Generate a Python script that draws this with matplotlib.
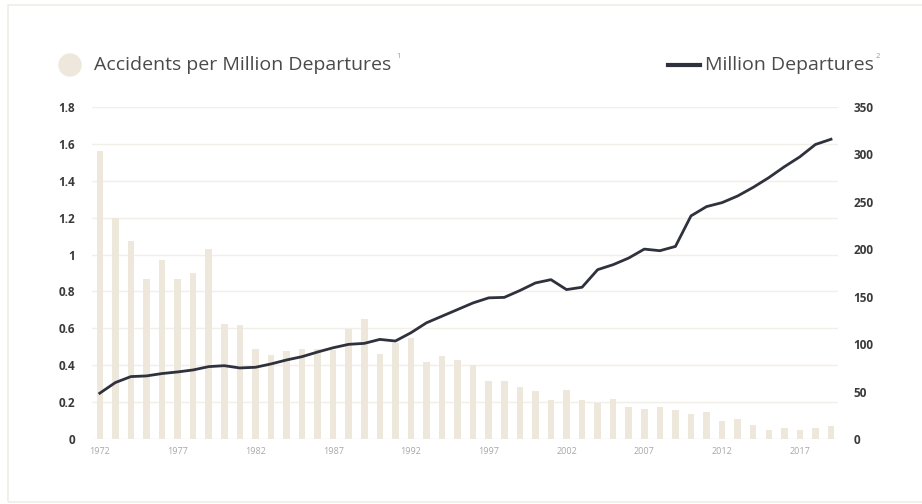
import matplotlib
matplotlib.use("Agg")
from matplotlib import pyplot as plt
from matplotlib.patches import Ellipse, Rectangle
from matplotlib.lines import Line2D
import numpy as np

years = list(range(1972, 2020))

accidents_per_million = [
    1.56, 1.20, 1.076, 0.87, 0.968, 0.87, 0.90, 1.03, 0.626, 0.62,
    0.49, 0.457, 0.479, 0.488, 0.49, 0.485, 0.596, 0.648, 0.459, 0.52,
    0.549, 0.418, 0.45, 0.428, 0.40, 0.315, 0.315, 0.283, 0.261, 0.212,
    0.265, 0.212, 0.194, 0.218, 0.173, 0.162, 0.176, 0.158, 0.135, 0.146,
    0.097, 0.108, 0.076, 0.05, 0.059, 0.05, 0.058, 0.072,
]

million_departures = [
    48.3, 59.5, 65.8, 66.5, 69.0, 70.7, 72.8, 76.3, 77.3, 74.9,
    75.6, 79.1, 83.3, 86.8, 91.7, 96.2, 99.8, 100.8, 105.0, 103.3,
    112.0, 122.5, 129.5, 136.5, 143.5, 148.8, 149.3, 156.5, 164.5, 168.0,
    157.5, 160.0, 178.5, 183.8, 190.8, 200.2, 198.5, 203.0, 235.2, 245.0,
    249.2, 256.2, 265.3, 275.5, 287.0, 297.5, 310.5, 316.0,
]

left_ticks = [0, 0.2, 0.4, 0.6, 0.8, 1, 1.2, 1.4, 1.6, 1.8]
left_labels = ["0", "0.2", "0.4", "0.6", "0.8", "1", "1.2", "1.4", "1.6", "1.8"]
right_ticks = [0, 50, 100, 150, 200, 250, 300, 350]
x_ticks = list(range(1972, 2020, 5))

bar_color = "#EEE8DC"
line_color = "#2F323D"
grid_color = "#F2EFE9"
label_color = "#3A3A3A"

plt.rcParams["font.family"] = ["Open Sans", "DejaVu Sans"]

fig = plt.figure(figsize=(9.22, 5.04), dpi=100)
fig.patches.append(Rectangle((8 / 922, 2 / 504), 1.2, 497 / 504, transform=fig.transFigure,
                             fill=False, edgecolor="#F1EEE8", linewidth=1.2))

ax = fig.add_axes([92 / 922, 1 - 439 / 504, (838 - 92) / 922, (439 - 107) / 504])
ax.bar(years, accidents_per_million, width=0.42, color=bar_color, zorder=2)
ax.set_ylim(0, 1.8)
ax.set_xlim(1971.5, 2019.45)
ax.set_yticks(left_ticks)
ax.set_yticklabels(left_labels)
ax.set_xticks(x_ticks)
ax.set_xticklabels([str(y) for y in x_ticks])
ax.grid(axis="y", color=grid_color, linewidth=1, zorder=0)
ax.set_axisbelow(True)
for s in ax.spines.values():
    s.set_visible(False)
ax.tick_params(axis="y", length=0, pad=12, labelsize=8.5, labelcolor=label_color)
ax.tick_params(axis="x", length=0, pad=6, labelsize=6.5, labelcolor="#A8A8A8")
for t in ax.get_yticklabels():
    t.set_fontweight("bold")

ax2 = ax.twinx()
ax2.plot(years, million_departures, color=line_color, linewidth=2, zorder=3)
ax2.set_ylim(0, 350)
ax2.set_yticks(right_ticks)
for s in ax2.spines.values():
    s.set_visible(False)
ax2.tick_params(axis="y", length=0, pad=11, labelsize=8.5, labelcolor=label_color)
for t in ax2.get_yticklabels():
    t.set_fontweight("bold")

# legend
fig.patches.append(Ellipse((70 / 922, 1 - 65 / 504), 22 / 922, 22 / 504,
                           transform=fig.transFigure, color=bar_color))
fig.text(94 / 922, 1 - 65 / 504, "Accidents per Million Departures", fontsize=14,
         color="#4A4A4A", va="center", ha="left")
fig.text(396 / 922, 1 - 56 / 504, "1", fontsize=5.5, color="#9A9A9A", va="center")
fig.lines.append(Line2D([668 / 922, 700 / 922], [1 - 65 / 504, 1 - 65 / 504],
                        transform=fig.transFigure, color=line_color, linewidth=3))
fig.text(705 / 922, 1 - 65 / 504, "Million Departures", fontsize=14,
         color="#4A4A4A", va="center", ha="left")
fig.text(876 / 922, 1 - 56 / 504, "2", fontsize=5.5, color="#9A9A9A", va="center")

fig.savefig("out.png", dpi=100)
